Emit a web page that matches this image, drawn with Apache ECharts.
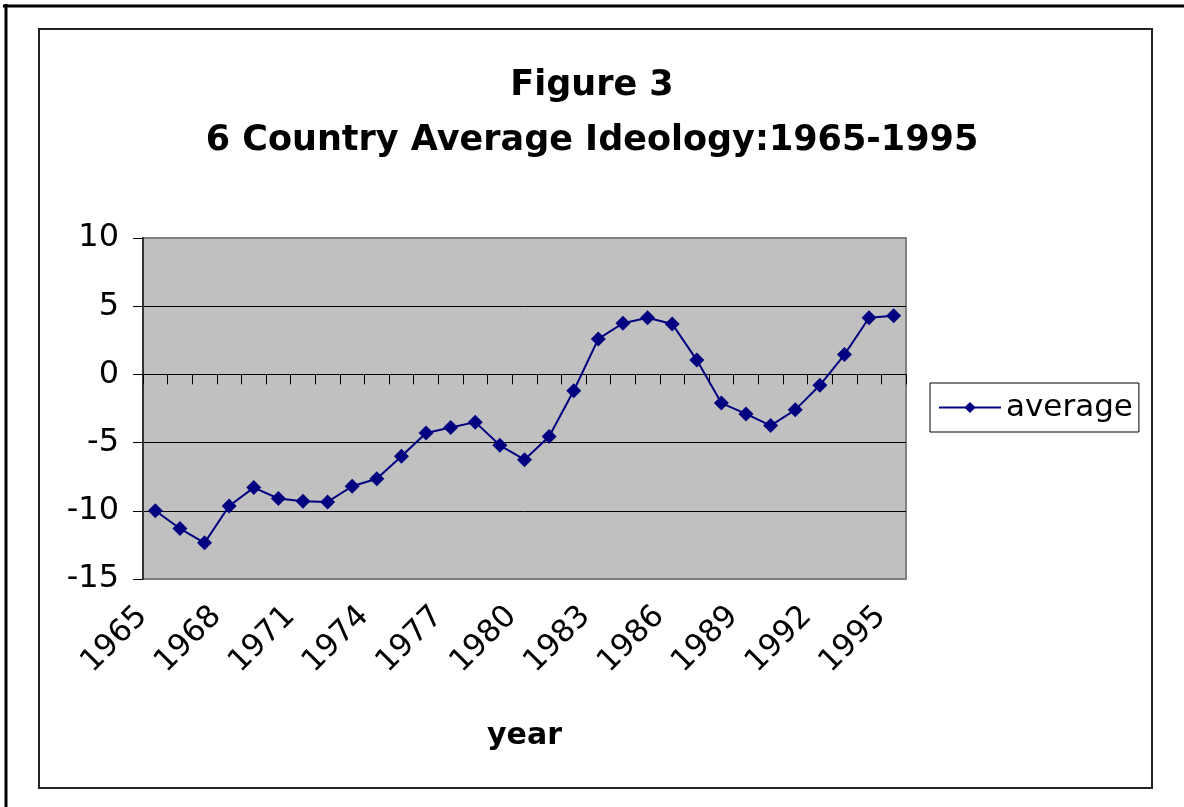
<!DOCTYPE html>
<html>
<head>
<meta charset="utf-8">
<script src="https://cdn.jsdelivr.net/npm/echarts@6/dist/echarts.min.js"></script>
<style>
html,body{margin:0;padding:0;background:#fff;}
#chart{width:1184px;height:807px;}
</style>
</head>
<body>
<div id="chart"></div>
<script>
const years = ['1965','1966','1967','1968','1969','1970','1971','1972','1973','1974','1975','1976','1977','1978','1979','1980','1981','1982','1983','1984','1985','1986','1987','1988','1989','1990','1991','1992','1993','1994','1995'];
const average = [-10.0, -11.3, -12.35, -9.65, -8.3, -9.1, -9.3, -9.35, -8.2, -7.65, -6.0, -4.3, -3.9, -3.5, -5.2, -6.25, -4.55, -1.2, 2.6, 3.75, 4.15, 3.7, 1.05, -2.1, -2.9, -3.75, -2.6, -0.8, 1.45, 4.15, 4.3];
const yTicks = {min: -15, max: 10, interval: 5};
const titleText = 'Figure 3\n6 Country Average Ideology:1965-1995';
const seriesName = 'average';
const xName = 'year';

const FONT = '"DejaVu Sans", "Liberation Sans", Arial, sans-serif';
const chart = echarts.init(document.getElementById('chart'), null, {renderer: 'canvas'});
chart.setOption({
  animation: false,
  backgroundColor: '#fff',
  title: {
    text: titleText,
    left: 'center',
    top: 53,
    textStyle: {fontFamily: FONT, fontSize: 35, fontWeight: 'bold', color: '#000', lineHeight: 55}
  },
  graphic: [
    {type: 'line', shape: {x1: 3, y1: 6, x2: 1184, y2: 6}, style: {stroke: '#000', lineWidth: 3}, z: 100},
    {type: 'line', shape: {x1: 6, y1: 4, x2: 6, y2: 807}, style: {stroke: '#000', lineWidth: 3}, z: 100},
    {type: 'rect', shape: {x: 39, y: 29, width: 1113, height: 759}, style: {fill: 'none', stroke: '#222', lineWidth: 2}, z: 100}
  ],
  legend: {
    data: [seriesName],
    left: 930,
    top: 383,
    orient: 'vertical',
    borderColor: '#000',
    borderWidth: 1,
    padding: [9, 6, 9, 8],
    itemWidth: 62,
    itemHeight: 14,
    itemGap: 0,
    textStyle: {fontFamily: FONT, fontSize: 31, color: '#000'}
  },
  grid: {
    left: 143, right: 278, top: 238, bottom: 228,
    show: true,
    backgroundColor: '#C0C0C0',
    borderColor: '#808080',
    borderWidth: 2
  },
  xAxis: [
    {
      type: 'category',
      data: years,
      boundaryGap: true,
      position: 'bottom',
      axisLine: {show: false, onZero: false},
      axisTick: {show: false},
      axisLabel: {
        interval: 2,
        rotate: 45,
        margin: 20,
        padding: [0, 18, 0, 0],
        fontFamily: FONT,
        fontSize: 31,
        color: '#000'
      },
      name: xName,
      nameLocation: 'middle',
      nameGap: 142,
      nameTextStyle: {fontFamily: FONT, fontSize: 30, fontWeight: 'bold', color: '#000'}
    },
    {
      type: 'category',
      data: years,
      boundaryGap: true,
      position: 'bottom',
      axisLine: {show: true, onZero: true, lineStyle: {color: '#000', width: 1}},
      axisTick: {show: true, interval: 0, length: 10, inside: false, lineStyle: {color: '#000', width: 1}},
      axisLabel: {show: false}
    }
  ],
  yAxis: {
    type: 'value',
    min: yTicks.min,
    max: yTicks.max,
    interval: yTicks.interval,
    axisLine: {show: true, onZero: false, lineStyle: {color: '#333', width: 2}},
    axisTick: {show: true, length: 10, lineStyle: {color: '#000', width: 1}},
    axisLabel: {margin: 24, fontFamily: FONT, fontSize: 32, color: '#000'},
    splitLine: {show: true, lineStyle: {color: ['#808080', '#000', '#000', '#000', '#000', '#808080'], width: 1}}
  },
  series: [{
    name: seriesName,
    type: 'line',
    xAxisIndex: 0,
    data: average,
    symbol: 'diamond',
    symbolSize: 15,
    itemStyle: {color: '#000080'},
    lineStyle: {color: '#000080', width: 2},
    z: 10
  }]
});
</script>
</body>
</html>
